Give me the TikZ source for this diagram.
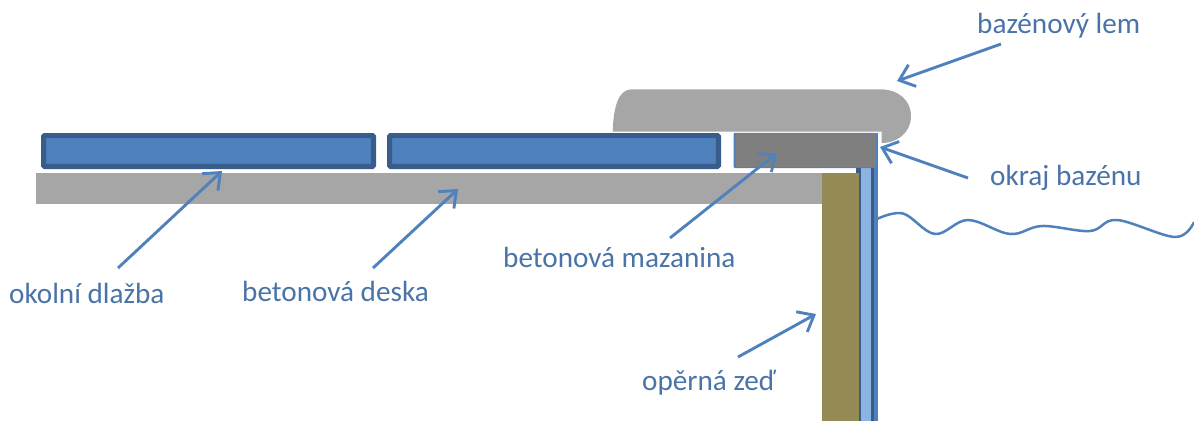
\documentclass[tikz,border=0pt]{standalone}
\usepackage{fontspec}
\setmainfont{Carlito}
\usetikzlibrary{arrows.meta}
\definecolor{acc}{HTML}{4F81BD}
\definecolor{accd}{HTML}{385D8A}
\definecolor{lgray}{HTML}{A6A6A6}
\definecolor{dgray}{HTML}{7F7F7F}
\definecolor{olive}{HTML}{948A54}
\definecolor{lblue}{HTML}{8DB3E2}
\definecolor{txt}{HTML}{4A73A8}
\tikzset{
  x=1pt,y=-1pt,
  tile/.style={draw=accd,fill=acc,line width=5.2pt,rounded corners=1pt},
  ptr/.style={draw=acc,line width=2.9pt,-{Straight Barb[length=14pt,width=23pt,line width=2.9pt]}},
  lab/.style={font=\fontsize{29.2}{32}\selectfont,text=txt,anchor=base west,inner sep=0pt},
}
\begin{document}
\begin{tikzpicture}
\useasboundingbox (0,0) rectangle (1194,421);
% slab and wall
\fill[lgray] (35.5,172.5) rectangle (822,203.5);
\fill[olive] (822,173) rectangle (859,421);
% liner
\fill[accd] (855.5,167) rectangle (860.5,173);
\fill[accd] (859,173) rectangle (860.5,421);
\fill[lblue] (860.5,167) rectangle (871,421);
\fill[accd] (871,167) rectangle (874,421);
\fill[acc] (874,133) rectangle (877.5,421);
% tiles
\draw[tile] (43.6,135.6) rectangle (373.4,166.4);
\draw[tile] (389.6,135.6) rectangle (718.4,166.4);
% screed
\fill[acc,rounded corners=1pt] (733.7,132.8) rectangle (876,168);
\fill[dgray] (735.5,133) rectangle (875.5,166.5);
% coping
\fill[lgray] (612.7,131.7) .. controls (613.5,105) and (619,89.3) .. (632,89.3)
  -- (880,89.3) .. controls (898,89.3) and (911,100) .. (911,116)
  .. controls (911,132) and (898,143) .. (881.7,143)
  -- (881.7,131.7) -- cycle;
% labels
\node[lab] (lem) at (977,33) {bazénový lem};
\node[lab] (okraj) at (990,185) {okraj bazénu};
\node[lab] (maz) at (503,267) {betonová mazanina};
\node[lab] (dlazba) at (9,303) {okolní dlažba};
\node[lab] (deska) at (242,301) {betonová deska};
\node[lab] (zed) at (642,390) {opěrná zeď};
% connector ends
\coordinate (a1s) at (118,268); \coordinate (a1e) at (222,171);
\coordinate (a2s) at (373,268); \coordinate (a2e) at (458,189);
\coordinate (a3s) at (670,238); \coordinate (a3e) at (777,153);
\coordinate (a4s) at (738,357); \coordinate (a4e) at (816,314);
\coordinate (a5s) at (1001,44); \coordinate (a5e) at (897,81);
\coordinate (a6s) at (968,178); \coordinate (a6e) at (880,147);
\draw[ptr] (a1s) -- (a1e);
\draw[ptr] (a2s) -- (a2e);
\draw[ptr] (a3s) -- (a3e);
\draw[ptr] (a4s) -- (a4e);
\draw[ptr] (a5s) -- (a5e);
\draw[ptr] (a6s) -- (a6e);
% water surface
\draw[acc,line width=2.5pt] plot[smooth,tension=0.6] coordinates {(877,219) (903,213.5) (935,234) (968,220) (1010,234) (1042,226) (1090,231) (1117,220) (1175,237) (1194,222)};
\end{tikzpicture}
\end{document}
